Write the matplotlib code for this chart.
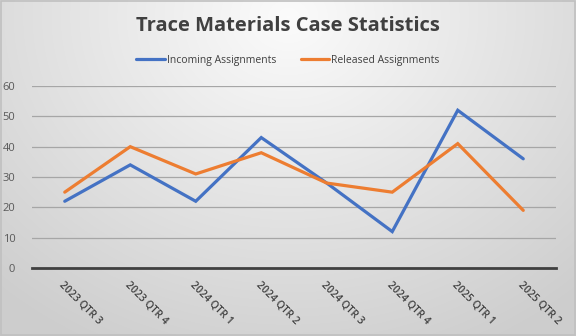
import numpy as np
import matplotlib
matplotlib.use("Agg")
import matplotlib.pyplot as plt

categories = ["2023 QTR 3", "2023 QTR 4", "2024 QTR 1", "2024 QTR 2",
              "2024 QTR 3", "2024 QTR 4", "2025 QTR 1", "2025 QTR 2"]
incoming = [22, 34, 22, 43, 28, 12, 52, 36]
released = [25, 40, 31, 38, 28, 25, 41, 19]
yticks = [0, 10, 20, 30, 40, 50, 60]

plt.rcParams['font.family'] = ['Open Sans', 'DejaVu Sans']

W, H = 576, 336
fig = plt.figure(figsize=(W / 100, H / 100), dpi=100)

# radial gradient background
bg = fig.add_axes([0, 0, 1, 1], zorder=-10)
yy, xx = np.mgrid[0:H, 0:W]
cx, cy = W * 0.5, H * 0.05
d = np.sqrt(((xx - cx) / (W * 0.75)) ** 2 + ((yy - cy) / (H * 1.1)) ** 2)
d = np.clip(d, 0, 1)
val = 0.985 - 0.18 * d
img = np.dstack([val, val, val])
bg.imshow(img, aspect='auto', extent=[0, 1, 0, 1], origin='upper')
bg.set_xlim(0, 1)
bg.set_ylim(0, 1)
bg.axis('off')
bg.add_patch(plt.Rectangle((0.001, 0.002), 0.997, 0.995, fill=False,
                           edgecolor='#c0c0c0', linewidth=1.2,
                           transform=bg.transAxes))

ax = fig.add_axes([32 / W, 1 - 268 / H, (556 - 32) / W, (268 - 86) / H])
ax.patch.set_alpha(0)
x = np.arange(len(categories))
ax.plot(x, incoming, color='#4472C4', linewidth=2.3, label='Incoming Assignments',
        solid_capstyle='round', solid_joinstyle='miter', zorder=3)
ax.plot(x, released, color='#ED7D31', linewidth=2.3, label='Released Assignments',
        solid_capstyle='round', solid_joinstyle='miter', zorder=3)

ax.set_xlim(-0.5, len(categories) - 0.5)
ax.set_ylim(0, 60)
ax.set_yticks(yticks)
ax.set_yticklabels([str(v) for v in yticks], fontsize=8, color='#595959')
ax.yaxis.grid(True, color='#a6a6a6', linewidth=0.9)
ax.set_axisbelow(True)
for s in ['top', 'right', 'left']:
    ax.spines[s].set_visible(False)
ax.spines['bottom'].set_color('#404040')
ax.spines['bottom'].set_linewidth(2)
ax.spines['bottom'].set_zorder(4)
ax.tick_params(axis='y', length=0, pad=12)
ax.tick_params(axis='x', length=0, pad=8)
ax.set_xticks(x)
ax.set_xticklabels(categories, rotation=-45, ha='left', va='top',
                   rotation_mode='anchor', fontsize=7.5, color='#404040',
                   fontweight='semibold')

fig.text(0.5, 1 - 26 / H, "Trace Materials Case Statistics", ha='center', va='center',
         fontsize=14.5, fontweight='bold', color='#404040')

leg = fig.legend(loc='center', bbox_to_anchor=(0.5, 1 - 60 / H), ncol=2,
                 frameon=False, fontsize=7.5, handlelength=2.7, handletextpad=0.2,
                 columnspacing=2.4, labelcolor='#404040')

fig.savefig("out.png", dpi=100)
